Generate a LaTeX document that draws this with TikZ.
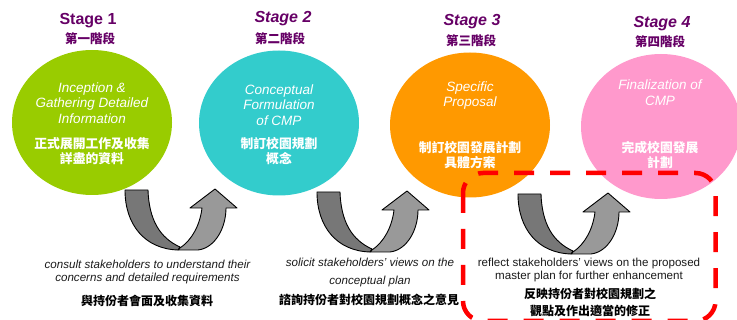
\documentclass[tikz,border=0pt]{standalone}
\usepackage{fontspec}
\setmainfont{Liberation Sans}
\newfontfamily\cjk{Noto Sans CJK TC}
\usetikzlibrary{shapes.geometric}

\definecolor{stagepurple}{HTML}{660066}
\definecolor{bubblegreen}{HTML}{99CC00}
\definecolor{bubbleteal}{HTML}{33CCCC}
\definecolor{bubbleorange}{HTML}{FF9900}
\definecolor{bubblepink}{HTML}{FF99CC}
\definecolor{banddark}{HTML}{777777}
\definecolor{bandlight}{HTML}{999999}
\definecolor{notegray}{HTML}{1A1A1A}

\begin{document}
\begin{tikzpicture}[x=1pt, y=-1pt,
    bubble/.style={ellipse, minimum width=160pt, minimum height=145pt, inner sep=0pt},
    stagetitle/.style={text=stagepurple, anchor=base, font=\fontsize{16}{18}\selectfont\bfseries},
    stagecjk/.style={text=stagepurple, font=\cjk\fontsize{12.5}{14}\selectfont\bfseries},
    bubbletext/.style={text=white, align=center, font=\fontsize{13.5}{15.5}\selectfont\itshape},
    bubblecjk/.style={text=white, align=center, font=\cjk\fontsize{12.8}{15}\selectfont\bfseries},
    notetext/.style={text=notegray, align=center, font=\fontsize{11.6}{13}\selectfont\itshape},
    notecjk/.style={align=center, font=\cjk\fontsize{12}{17}\selectfont\bfseries},
    darkband/.style={fill=banddark, draw=black, line width=0.9pt, line join=round},
    lightband/.style={fill=bandlight, draw=black, line width=0.9pt, line join=round}]

  \useasboundingbox (0,0) rectangle (737,320);

  % the four stages
  \node[bubble, fill=bubblegreen] (s1) at (92,122.5) {};
  \node[bubble, fill=bubbleteal] (s2) at (279,123) {};
  \node[bubble, fill=bubbleorange] (s3) at (470,125) {};
  \node[bubble, fill=bubblepink] (s4) at (661,126.5) {};

  \node[stagetitle] (t1) at (88,25) {Stage 1};
  \node[stagetitle] (t2) at (283,22.7) {\itshape Stage 2};
  \node[stagetitle] (t3) at (472,26) {\itshape Stage 3};
  \node[stagetitle] (t4) at (662,27.7) {\itshape Stage 4};

  \node[stagecjk] (c1) at (90,39) {第一階段};
  \node[stagecjk] (c2) at (280,39) {第二階段};
  \node[stagecjk] (c3) at (471,41) {第三階段};
  \node[stagecjk] (c4) at (660,42) {第四階段};

  \node[bubbletext] (e1) at (92,103) {Inception \&\\Gathering Detailed\\Information};
  \node[bubblecjk] (z1) at (92,151) {正式展開工作及收集\\詳盡的資料};
  \node[bubbletext] (e2) at (279,105) {Conceptual\\Formulation\\of CMP};
  \node[bubblecjk] (z2) at (279,151) {制訂校園規劃\\概念};
  \node[bubbletext] (e3) at (470,95.5) {Specific\\Proposal};
  \node[bubblecjk] (z3) at (470,155) {制訂校園發展計劃\\具體方案};
  \node[bubbletext] (e4) at (660,92.5) {Finalization of\\CMP};
  \node[bubblecjk] (z4) at (660,155) {完成校園發展\\計劃};

  % turning arrows
  \draw[darkband] (125,190) -- (148,190) .. controls (149,220) and (160,238) .. (180,247)
    -- (178,250) .. controls (145,249) and (125,225) .. cycle;
  \draw[lightband] (180,248) .. controls (192,240) and (200,225) .. (202,208) -- (190,208)
    -- (215,189) -- (237,208) -- (226,208) .. controls (226,228) and (215,248) .. (198,250)
    -- (178,250) -- cycle;

  \begin{scope}[shift={(192,2)}]
    \draw[darkband] (125,190) -- (148,190) .. controls (149,220) and (160,238) .. (180,247)
      -- (178,250) .. controls (145,249) and (125,225) .. cycle;
    \draw[lightband] (180,248) .. controls (192,240) and (200,225) .. (202,208) -- (190,208)
      -- (215,189) -- (237,208) -- (226,208) .. controls (226,228) and (215,248) .. (198,250)
      -- (178,250) -- cycle;
  \end{scope}

  \begin{scope}[shift={(393,4)}]
    \draw[darkband] (125,190) -- (148,190) .. controls (149,220) and (160,238) .. (180,247)
      -- (178,250) .. controls (145,249) and (125,225) .. cycle;
    \draw[lightband] (180,248) .. controls (192,240) and (200,225) .. (202,208) -- (190,208)
      -- (215,189) -- (237,208) -- (226,208) .. controls (226,228) and (215,248) .. (198,250)
      -- (178,250) -- cycle;
  \end{scope}

  % notes under the arrows
  \node[notetext] (n1) at (147.5,272.5) {consult stakeholders to understand their\\concerns and detailed requirements};
  \node[notecjk] (m1) at (147,301) {與持份者會面及收集資料};
  \node[notetext] (n2) at (370,273) {solicit stakeholders’ views on the\\[5pt]conceptual plan};
  \node[notecjk] (m2) at (369,300) {諮詢持份者對校園規劃概念之意見};
  \node[notetext, font=\fontsize{11.6}{13}\selectfont] (n3) at (589,270.5) {reflect stakeholders’ views on the proposed\\master plan for further enhancement};
  \node[notecjk] (m3) at (590,302.5) {反映持份者對校園規劃之\\觀點及作出適當的修正};

  % highlight of the last step
  \draw[red, line width=4.5pt, dash pattern=on 20pt off 16pt, rounded corners=20pt]
    (463,173) rectangle (715.5,321);

\end{tikzpicture}
\end{document}
